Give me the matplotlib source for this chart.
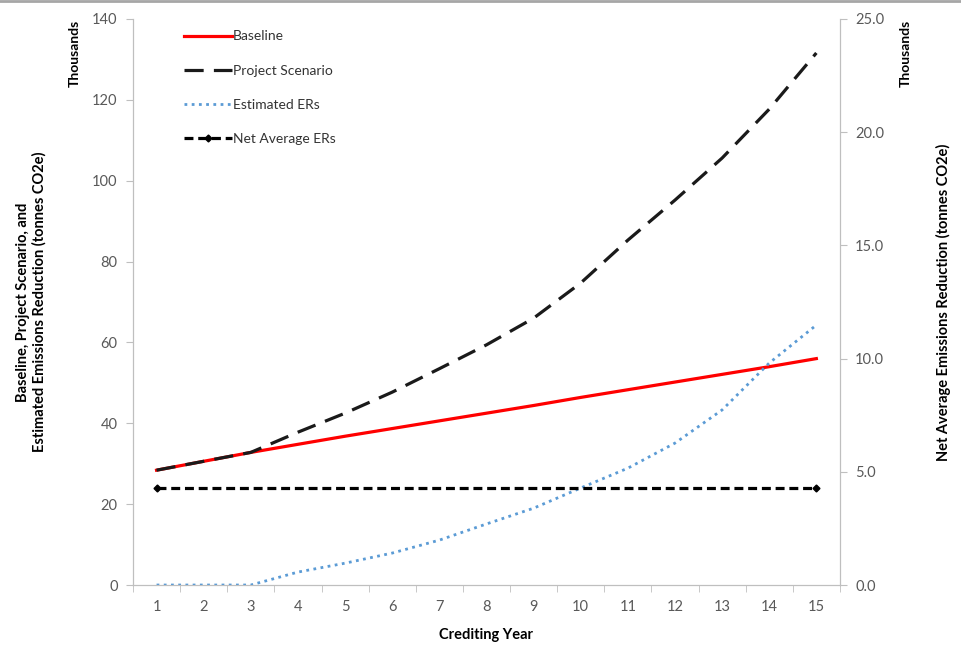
import numpy as np
import matplotlib.pyplot as plt
from matplotlib.lines import Line2D
from matplotlib.ticker import FormatStrFormatter

plt.rcParams['font.family'] = ['Lato', 'DejaVu Sans']

# data in thousands (tonnes CO2e)
years = list(range(1, 16))
baseline = [28.4, 30.6, 32.8, 34.8, 36.8, 38.7, 40.6, 42.5, 44.4, 46.4,
            48.3, 50.2, 52.1, 54.0, 56.0]
project = [28.4, 30.6, 32.8, 37.8, 42.5, 47.7, 53.5, 59.4, 66.0, 74.7,
           85.3, 95.2, 105.6, 117.7, 131.6]
est_ers = [0.0, 0.0, 0.0, 3.2, 5.4, 7.9, 11.1, 15.1, 19.0, 24.0,
           28.9, 35.1, 43.3, 54.9, 64.3]
net_avg = [4.3] * 15

tick_col = '#595959'
spine_col = '#bfbfbf'

fig = plt.figure(figsize=(9.61, 6.62), dpi=100)
ax = fig.add_axes([0.1384, 0.1163, 0.7356, 0.855])
ax2 = ax.twinx()

l1, = ax.plot(years, baseline, color='#ff0000', lw=2.3, label='Baseline', zorder=2)
l2, = ax.plot(years, project, color='#1a1a1a', lw=2.3, dashes=(6, 3.2),
              label='Project Scenario', zorder=3)
l3, = ax.plot(years, est_ers, color='#5b9bd5', lw=2.0, dashes=(1, 1.6),
              label='Estimated ERs', zorder=3)
l4, = ax2.plot(years, net_avg, color='black', lw=2.3, dashes=(2.8, 1.5),
               marker='D', markersize=3.5, markevery=[0, -1],
               label='Net Average ERs')

ax.set_xlim(0.5, 15.5)
ax.set_ylim(0, 140)
ax.set_yticks(np.arange(0, 141, 20))
ax2.set_ylim(0, 25)
ax2.set_yticks(np.arange(0, 25.1, 5))
ax2.yaxis.set_major_formatter(FormatStrFormatter('%.1f'))

ax.set_xticks(years)
ax.set_xticks(np.arange(0.5, 15.6, 1), minor=True)
ax.tick_params(axis='x', which='major', length=0, pad=11, labelsize=10.5,
               colors=tick_col)
ax.tick_params(axis='x', which='minor', length=5, color=spine_col, direction='out')

for a in (ax, ax2):
    a.tick_params(axis='y', length=5, color=spine_col, labelsize=10.5,
                  labelcolor=tick_col, pad=6)
    for s in a.spines.values():
        s.set_color(spine_col)
    a.spines['top'].set_visible(False)

ax.set_xlabel('Crediting Year', fontsize=10.5, fontweight='bold', labelpad=10)
ax.set_ylabel('Baseline, Project Scenario, and\nEstimated Emissions Reduction (tonnes CO2e)',
              fontsize=10.5, fontweight='bold', labelpad=33)
ax2.set_ylabel('Net Average Emissions Reduction (tonnes CO2e)',
               fontsize=10.5, fontweight='bold', labelpad=37)

fig.text(0.078, 0.97, 'Thousands', rotation=90, ha='center', va='top',
         fontsize=10, fontweight='bold')
fig.text(0.942, 0.97, 'Thousands', rotation=90, ha='center', va='top',
         fontsize=10, fontweight='bold')

leg = ax.legend(handles=[l1, l2, l3, l4], loc='upper left',
                bbox_to_anchor=(0.055, 1.002), frameon=False, fontsize=10,
                handlelength=3.4, handletextpad=0.1, labelspacing=1.6)
for t in leg.get_texts():
    t.set_color('#333333')

fig.add_artist(Line2D([0, 1], [0.998, 0.998], color='#a6a6a6', lw=2,
                      transform=fig.transFigure))

fig.savefig('out.png', dpi=100)
